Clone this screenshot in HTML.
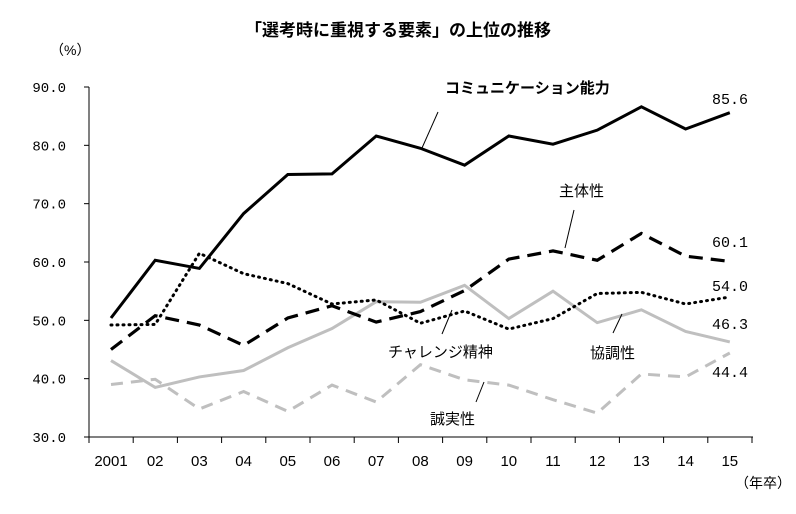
<!DOCTYPE html>
<html><head><meta charset="utf-8"><style>
body{margin:0;background:#fff;}
svg text{font-family:"Liberation Sans","Noto Sans CJK JP",sans-serif;}
.num{font-family:"Liberation Mono","Noto Sans CJK JP",monospace;}
</style></head><body>
<svg id="chart" width="796" height="509" xmlns="http://www.w3.org/2000/svg">
<text x="398" y="36" text-anchor="middle" font-size="17" font-weight="bold">「選考時に重視する要素」の上位の推移</text>
<text x="50" y="55" font-size="14">（%）</text>
<text x="735" y="488" font-size="14">（年卒）</text>
<g id="axes"></g><g id="series"></g><g id="labels"></g>
</svg>
<script>
const categories=["2001","02","03","04","05","06","07","08","09","10","11","12","13","14","15"];
const yTicks=[30,40,50,60,70,80,90];
const comm=[50.4,60.3,58.9,68.3,75.0,75.1,81.6,79.5,76.6,81.6,80.2,82.6,86.6,82.8,85.6];
const shutai=[45.0,50.8,49.2,45.7,50.4,52.5,49.7,51.5,55.1,60.5,61.9,60.3,64.9,61.0,60.1];
const challenge=[49.2,49.3,61.5,58.0,56.3,52.8,53.5,49.5,51.6,48.5,50.3,54.6,54.8,52.8,54.0];
const kyochou=[43.1,38.5,40.3,41.4,45.3,48.6,53.2,53.1,56.0,50.3,55.0,49.6,51.8,48.1,46.3];
const seijitsu=[39.0,39.9,34.8,37.8,34.4,38.9,36.0,42.4,39.8,38.9,36.4,34.1,40.8,40.3,44.4];
const NS="http://www.w3.org/2000/svg";
const x0=111,dx=44.2,yTop=87,yBot=437;
function X(i){return x0+i*dx;}
function Y(v){return yBot-(v-30)/60*(yBot-yTop);}
function mk(tag,attrs,parent){const e=document.createElementNS(NS,tag);for(const k in attrs)e.setAttribute(k,attrs[k]);parent.appendChild(e);return e;}
const axes=document.getElementById('axes');
let ya=mk('line',{x1:89,y1:yTop,x2:89,y2:yBot,stroke:'#000','stroke-width':1},axes);


let xa=mk('line',{x1:89,y1:yBot,x2:753,y2:yBot,stroke:'#000','stroke-width':1},axes);


yTicks.forEach(v=>{
  mk('line',{x1:84,y1:Y(v),x2:89,y2:Y(v),stroke:'#000'},axes);
  const t=mk('text',{x:66,y:Y(v)+5,'text-anchor':'end','font-size':14,class:'num'},axes);
  t.textContent=v.toFixed(1);
  
  
});
for(let i=0;i<=categories.length;i++){
  const tx=89+i*dx;
  mk('line',{x1:tx,y1:yBot,x2:tx,y2:yBot+6,stroke:'#000'},axes);
}
categories.forEach((c,i)=>{
  const t=mk('text',{x:X(i),y:466,'text-anchor':'middle','font-size':15},axes);
  t.textContent=c;
  
  
});
const sg=document.getElementById('series');
function line(data,name,color,dash,w){
  const p=mk('polyline',{points:data.map((v,i)=>X(i)+','+Y(v)).join(' '),fill:'none',stroke:color,'stroke-width':w,'stroke-dasharray':dash,'stroke-linejoin':'miter','stroke-linecap':dash==='1 5'?'round':'butt'},sg);
  
  
}
line(seijitsu,'series-seijitsu','#bfbfbf','12 8',3);
line(kyochou,'series-kyochou','#bfbfbf','none',3);
line(challenge,'series-challenge','#000','1 5',3);
line(shutai,'series-shutai','#000','14 8',3.2);
line(comm,'series-communication','#000','none',3);
const lg=document.getElementById('labels');
function lab(txt,x,y,name,bold,anchor){
  const t=mk('text',{x:x,y:y,'font-size':15,'font-weight':bold?'bold':'normal','text-anchor':anchor||'start'},lg);
  t.textContent=txt;
  
  
}
function lead(x1,y1,x2,y2){mk('line',{x1:x1,y1:y1,x2:x2,y2:y2,stroke:'#000','stroke-width':1},lg);}
lab('コミュニケーション能力',445,93,'label-communication',true);
lead(438,112,422,148);
lab('主体性',559,196,'label-shutai');
lead(574,210,565,248);
lab('チャレンジ精神',388,357,'label-challenge');
lead(452,310,442,334);
lab('協調性',590,358,'label-kyochou');
lead(622,314,613,333);
lab('誠実性',430,424,'label-seijitsu');
lead(484,382,476,402);
const ends=[[comm,'85.6',104,'end-comm'],[shutai,'60.1',247,'end-shutai'],[challenge,'54.0',291,'end-challenge'],[kyochou,'46.3',329,'end-kyochou'],[seijitsu,'44.4',377,'end-seijitsu']];
ends.forEach(e=>{
  const t=mk('text',{x:748,y:e[2],'text-anchor':'end','font-size':15,class:'num'},lg);
  t.textContent=e[0][e[0].length-1].toFixed(1);
  
  
});
</script>
</body></html>
